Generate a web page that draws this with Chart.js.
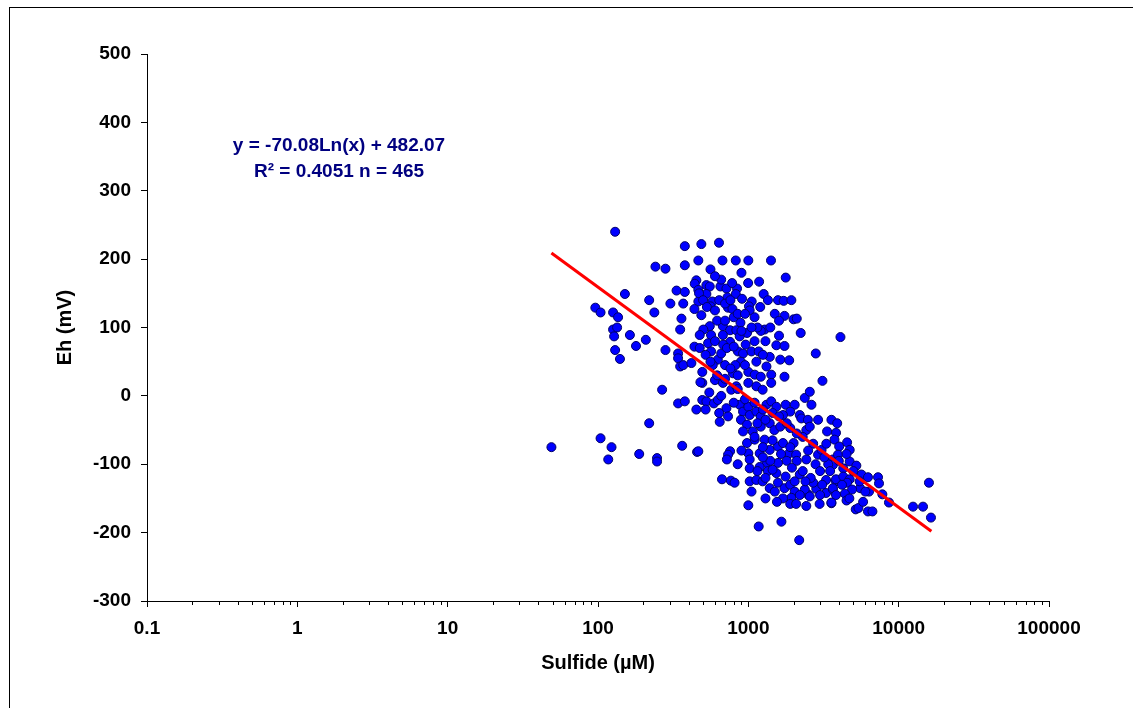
<!DOCTYPE html>
<html>
<head>
<meta charset="utf-8">
<script src="https://cdn.jsdelivr.net/npm/chart.js@4.4.0/dist/chart.umd.min.js"></script>
<style>
  html, body { margin: 0; padding: 0; background: #fff; }
  #wrap { width: 1133px; height: 708px; }
</style>
</head>
<body>
<div id="wrap"><canvas id="ehChart" width="1133" height="708"></canvas></div>
<script>
// sulfide (uM), Eh (mV)
const sulfide = [
  130, 378, 241, 281, 378, 151, 96, 104, 126, 136, 219, 237, 303, 333, 378, 369, 359, 352, 126, 134,
  163, 208, 128, 179, 130, 140, 281, 341, 341, 352, 369, 418, 267, 341, 378, 219, 49, 104, 123, 117,
  188, 247, 247, 363, 456,
  487, 638, 465, 673, 825, 1000, 1415, 1773, 451, 440, 526, 554, 465, 652, 715, 841, 997, 1180, 1265, 825,
  726, 908, 1053, 526, 465, 438, 577, 560, 487, 733, 784, 1010, 1021, 1575, 1718, 1933, 1740, 2000, 2100, 1284,
  1210, 886, 677, 554, 502, 565, 475, 756, 832, 980, 2230, 4100, 1600, 876, 677,
  438, 475, 540, 565, 627, 660, 756, 853, 922, 1048, 1172, 893, 1131, 1388, 1536, 1740, 1632, 1870, 2809, 1320,
  494, 790, 1000, 1103, 1210, 1420, 1740, 494, 600, 677, 770, 832, 1000, 1131, 1245, 1420, 3112, 451, 494, 526,
  590, 627, 660, 715, 645, 733, 876, 922, 893, 1000, 1021, 1131, 1210, 1320, 1420, 1536, 1770, 2034, 2374, 2563,
  2630, 2198, 1900, 1700, 1388, 1210, 980, 922, 1070, 1490, 1632, 1900, 2250, 2490, 2910, 2430, 2563, 3340, 3570, 465,
  756, 733, 980, 1000, 1103, 1284, 1388, 1575, 1700, 2000, 1190, 1870, 2080, 2910, 3070, 3650, 2430, 1021, 1320, 1575,
  720, 668, 765, 810, 1000, 1021, 1131, 1245, 1388, 1575, 1740, 1900, 2034, 1933, 1900, 2080, 2430, 2490, 2374, 2830,
  2980, 3290, 3570, 3650, 3830, 3290, 2700, 2198, 2034, 1770, 1536, 1350, 1172, 1660, 2180, 2563, 1021, 1190, 1450,
  3830, 3740, 4020, 4540, 4723, 3950, 3650, 4723, 5230, 4280, 3830, 4280, 4723, 5650, 6250, 7290, 7400, 4540, 5540, 4900,
  3650, 3830, 4390, 3570, 4500, 6350, 7790, 8620, 5180, 5400, 6250, 6690, 12460, 14520, 15900, 16400,
  // overlapping points inside the dense core
  470, 500, 530, 600, 640, 700, 760, 800, 850, 950, 1100, 1150, 620, 700, 900, 1050, 600, 680, 720, 800,
  960, 1100, 520, 580, 700, 820, 950, 1250, 1300, 1400, 1500, 1350, 1200, 1600, 660, 780, 900, 560, 600,
  950, 1100, 1250, 1150, 1300, 1450, 1600, 1800, 1100, 1250, 1450, 1650, 1800, 1950, 2100, 2300, 1150, 1300, 1500, 1700,
  2200, 2600, 2800, 3000, 2700, 2500, 2300, 2100, 1900, 1400, 1250, 900, 850, 1050, 1300, 1550, 2400, 3100, 3400, 3200,
  3500, 4000, 4200, 5000, 5500, 6000, 3300, 3900, 4500, 3000, 4700, 5800,
  480, 550, 620, 700, 760, 850, 560, 520, 640, 800, 850
];
const eh = [
  240, 219, 189, 186, 191, 149, 129, 122, 122, 115, 140, 122, 135, 154, 152, 135, 113, 97, 97, 100,
  89, 82, 87, 73, 67, 54, 67, 62, 55, 43, 45, 48, 9, -11, -8, -40, -75, -62, -75, -93,
  -85, -91, -96, -73, -82,
  222, 224, 198, 198, 198, 198, 198, 173, 169, 164, 162, 160, 155, 160, 157, 157, 165, 167, 149, 149,
  144, 142, 138, 149, 138, 127, 138, 131, 118, 129, 127, 131, 125, 140, 139, 140, 117, 112, 113, 97,
  95, 107, 102, 102, 97, 89, 89, 96, 96, 92, 92, 86, 88, 87, 89,
  72, 70, 77, 65, 53, 62, 79, 65, 62, 65, 65, 50, 50, 57, 74, 73, 53, 52, 62, 43,
  35, 33, 35, 31, 28, 31, 28, 19, 23, 19, 9, 14, 19, 14, 9, 19, 22, -20, -6, -8,
  -11, -6, 0, -18, -38, -30, -13, -23, -35, -16, -28, -23, -30, -13, -8, -16, -13, -13, -3, 6,
  -13, -28, -23, -28, -40, -45, -42, -52, -52, -50, -45, -47, -33, -35, -35, -50, -45, -52, -35, -81,
  -81, -86, -69, -84, -64, -64, -79, -74, -69, -69, -84, -84, -86, -86, -79, -93, -93, -93, -98, -98,
  -93, -122, -124, -127, -160, -125, -123, -125, -135, -127, -135, -130, -140, -149, -158, -158, -161, -144, -137, -136,
  -158, -142, -157, -137, -125, -123, -127, -115, -125, -118, -113, -110, -191, -184, -211, -147, -106, -104, -108,
  -54, -64, -74, -68, -79, -86, -101, -96, -102, -106, -122, -118, -122, -115, -119, -119, -128, -127, -135, -137,
  -135, -145, -143, -156, -153, -140, -144, -156, -166, -164, -169, -169, -162, -162, -127, -178,
  150, 140, 130, 125, 140, 135, 140, 115, 120, 120, 115, 100, 110, 110, 95, 100, 80, 75, 70, 72,
  75, 80, 60, 45, 45, 45, 45, 60, 80, 100, 120, 140, 130, 110, 170, 165, 180, 185, 175,
  -5, -10, -20, -40, -35, -25, -30, -40, -60, -75, -65, -85, -95, -105, -95, -110, -110, -120, -140, -150,
  -145, -120, -100, -110, -70, -80, -60, -55, -75, -95, -90, -80, -100, -140, -150, -155, -125, -130, -100, -90,
  -110, -95, -130, -110, -125, -140, -70, -40, -85, -145, -150, -155,
  20, 5, 30, 25, 40, 30, 50, -20, -25, -10, 10
];
// log fit as drawn in the reference, from min to max sulfide
const trendX = [49, 16500];
const trendY = [209, -198];

const xTickValues = [0.1, 1, 10, 100, 1000, 10000, 100000];
const yTickValues = [-300, -200, -100, 0, 100, 200, 300, 400, 500];
const eqLines = ['y = -70.08Ln(x) + 482.07', 'R\u00b2 = 0.4051 n = 465'];

const FONT = "'Liberation Sans', Arial, sans-serif";
Chart.defaults.font.family = FONT;
Chart.defaults.color = '#000';

const points = sulfide.map((x, i) => ({ x: x, y: eh[i] }));
const trend = trendX.map((x, i) => ({ x: x, y: trendY[i] }));

// frame + equation text + short minor ticks on the log axis
const extras = {
  id: 'extras',
  beforeDraw(chart) {
    const c = chart.ctx;
    c.save();
    c.fillStyle = '#fff';
    c.fillRect(0, 0, chart.width, chart.height);
    c.strokeStyle = '#000';
    c.lineWidth = 1;
    c.strokeRect(9.5, 7.5, chart.width + 50, chart.height + 50);
    c.restore();
  },
  afterDraw(chart) {
    const c = chart.ctx;
    const xs = chart.scales.x;
    c.save();
    c.strokeStyle = '#000';
    c.lineWidth = 1;
    xTickValues.slice(0, -1).forEach(d => {
      for (let m = 2; m <= 9; m++) {
        const px = Math.round(xs.getPixelForValue(d * m)) + 0.5;
        c.beginPath();
        c.moveTo(px, xs.top);
        c.lineTo(px, xs.top + 4);
        c.stroke();
      }
    });
    c.fillStyle = '#000080';
    c.font = 'bold 19px ' + FONT;
    c.textAlign = 'center';
    c.textBaseline = 'middle';
    c.fillText(eqLines[0], 339, 146);
    c.fillText(eqLines[1], 339, 172);
    c.restore();
  }
};

new Chart(document.getElementById('ehChart'), {
  type: 'scatter',
  data: {
    datasets: [
      {
        label: 'trend',
        type: 'line',
        data: trend,
        borderColor: '#ff0000',
        borderWidth: 3,
        pointRadius: 0,
        fill: false,
        order: 0
      },
      {
        label: 'Eh',
        data: points,
        backgroundColor: '#0000ff',
        borderColor: '#000066',
        borderWidth: 1,
        pointRadius: 4.5,
        order: 1
      }
    ]
  },
  options: {
    responsive: false,
    devicePixelRatio: 1,
    animation: false,
    layout: { padding: { left: 10, top: 54, right: 84, bottom: 0 } },
    plugins: {
      legend: { display: false },
      tooltip: { enabled: false }
    },
    scales: {
      x: {
        type: 'logarithmic',
        min: 0.1,
        max: 100000,
        afterBuildTicks: s => { s.ticks = xTickValues.map(v => ({ value: v })); },
        afterFit: s => { s.height = 107; },
        ticks: {
          autoSkip: false,
          maxRotation: 0,
          padding: 10,
          font: { size: 19, weight: 'bold' },
          callback: v => String(v)
        },
        grid: { drawOnChartArea: false, drawTicks: true, tickLength: 6, tickColor: '#000' },
        border: { display: true, color: '#000', width: 1 },
        title: {
          display: true,
          text: 'Sulfide (\u00b5M)',
          font: { size: 20, weight: 'bold' },
          padding: { top: 0, bottom: 33 }
        }
      },
      y: {
        type: 'linear',
        min: -300,
        max: 500,
        afterBuildTicks: s => { s.ticks = yTickValues.map(v => ({ value: v })); },
        afterFit: s => { s.width = 137; },
        ticks: {
          padding: 10,
          font: { size: 19, weight: 'bold' }
        },
        grid: { drawOnChartArea: false, drawTicks: true, tickLength: 6, tickColor: '#000' },
        border: { display: true, color: '#000', width: 1 },
        title: {
          display: true,
          text: 'Eh (mV)',
          font: { size: 20, weight: 'bold' },
          padding: { top: 43, bottom: 0 }
        }
      }
    }
  },
  plugins: [extras]
});
</script>
</body>
</html>
